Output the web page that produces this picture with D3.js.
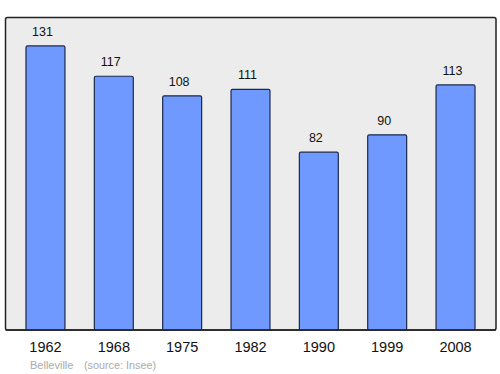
<!DOCTYPE html>
<html><head><meta charset="utf-8">
<script src="https://cdn.jsdelivr.net/npm/d3@7"></script>
<style>body{margin:0;background:#fff}svg{display:block}</style>
</head><body>
<svg id="c" width="500" height="374"></svg>
<script>
const years = ["1962","1968","1975","1982","1990","1999","2008"];
const population = [131,117,108,111,82,90,113];
const place = "Belleville";
const source = "(source: Insee)";

const svg = d3.select("#c");
const frame = {x0:5.5, y0:17.5, x1:496, y1:330};
const x = d3.scaleBand().domain(years).range([11.3, 489.7]).paddingInner(0.43).paddingOuter(0.215);
const y = d3.scaleLinear().domain([0, d3.max(population)*1.1]).range([frame.y1, frame.y0]);

svg.append("rect").attr("x",frame.x0).attr("y",frame.y0)
  .attr("width",frame.x1-frame.x0).attr("height",frame.y1-frame.y0)
  .attr("rx",2).attr("fill","#ececec").attr("stroke","#222").attr("stroke-width",1.5);

const data = years.map((yr,i)=>({yr, v:population[i]}));
svg.selectAll("rect.bar").data(data).join("rect").attr("class","bar")
  .attr("x",d=>x(d.yr)).attr("width",x.bandwidth())
  .attr("y",d=>y(d.v)).attr("height",d=>frame.y1-y(d.v))
  .attr("rx",1.5)
  .attr("fill","#7099ff").attr("stroke","#1a2a4a").attr("stroke-width",1.2);

svg.append("line").attr("x1",frame.x0).attr("x2",frame.x1).attr("y1",frame.y1).attr("y2",frame.y1)
  .attr("stroke","#222").attr("stroke-width",1.5);

svg.selectAll("text.val").data(data).join("text").attr("class","val")
  .attr("x",d=>x(d.yr)+x.bandwidth()/2-3).attr("y",d=>y(d.v)-10)
  .attr("text-anchor","middle").attr("font-family","Liberation Sans, Arial, sans-serif")
  .attr("font-size",12.5).attr("fill","#111").text(d=>d.v);

const ax = svg.append("g").attr("transform",`translate(0,${frame.y1})`)
  .call(d3.axisBottom(x).tickSize(0).tickPadding(12));
ax.select(".domain").remove();
ax.selectAll("text").attr("font-family","Liberation Sans, Arial, sans-serif").attr("font-size",14.5).attr("fill","#111");

svg.append("text").attr("x",30).attr("y",369).attr("font-family","Liberation Sans, Arial, sans-serif")
  .attr("font-size",11).attr("fill","#aaa").text(place);
svg.append("text").attr("x",84).attr("y",369).attr("font-family","Liberation Sans, Arial, sans-serif")
  .attr("font-size",10.8).attr("fill","#aaa").text(source);
</script>
</body></html>
